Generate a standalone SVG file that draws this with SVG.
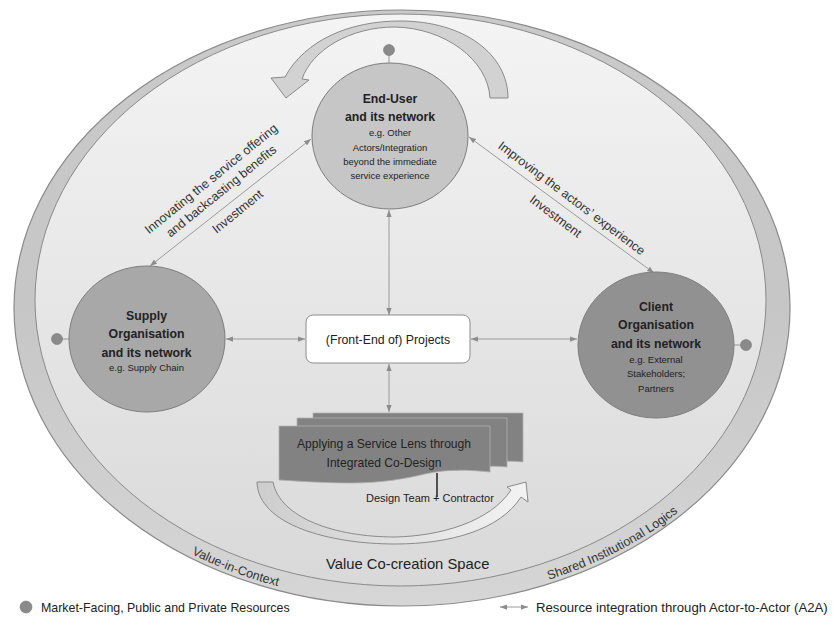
<svg xmlns="http://www.w3.org/2000/svg" width="833" height="628" viewBox="0 0 833 628">
<defs>
<linearGradient id="gOuter" x1="0" y1="0" x2="0" y2="1"><stop offset="0" stop-color="#cacaca"/><stop offset="0.5" stop-color="#c6c6c6"/><stop offset="1" stop-color="#d6d6d6"/></linearGradient>
<linearGradient id="gInner" x1="0" y1="0" x2="0" y2="1"><stop offset="0" stop-color="#f4f4f4"/><stop offset="1" stop-color="#d9d9d9"/></linearGradient>
<linearGradient id="gU" x1="0" y1="0" x2="1" y2="0"><stop offset="0" stop-color="#cdcdcd"/><stop offset="1" stop-color="#f3f3f3"/></linearGradient>
<marker id="ah" viewBox="0 0 8 6" refX="8" refY="3" markerWidth="7" markerHeight="5.5" orient="auto-start-reverse" markerUnits="userSpaceOnUse"><path d="M0,0 L8,3 L0,6 Z" fill="#8c8c8c"/></marker>
<path id="bandPath" d="M18,308 A384,294 0 0 0 786,308"/>
</defs>
<style>
text { font-family: "Liberation Sans", Arial, sans-serif; fill: #222; }
.b { font-weight: bold; font-size: 12.3px; text-anchor: middle; }
.s { font-size: 9.5px; text-anchor: middle; }
.lbl { font-size: 12.5px; fill: #333; }
.con { stroke: #9a9a9a; stroke-width: 1; fill: none; marker-start: url(#ah); marker-end: url(#ah); }
.node { stroke: #7d7d7d; stroke-width: 1; }
.dot { fill: #8a8a8a; stroke: #777; stroke-width: 0.6; }
.stub { stroke: #999; stroke-width: 1; }
.doc { fill: #828282; stroke: #b0b0b0; stroke-width: 0.8; }
.curv { stroke: #8a8a8a; stroke-width: 1; }
</style>

<g id="space">
<ellipse cx="402" cy="308" rx="388" ry="298" fill="url(#gOuter)" stroke="#8a8a8a" stroke-width="1.2"/>
<ellipse cx="400.5" cy="300" rx="365.5" ry="286" fill="url(#gInner)" stroke="#8a8a8a" stroke-width="1"/>
<text class="lbl"><textPath href="#bandPath" startOffset="363" text-anchor="middle">Value-in-Context</textPath></text>
<text class="lbl" font-size="13"><textPath href="#bandPath" startOffset="757" text-anchor="middle">Shared Institutional Logics</textPath></text>
<text x="326" y="569" font-size="14.8">Value Co-creation Space</text>
</g>

<g id="cycle-arrow-top">
<path class="curv" fill="#d2d2d2" d="M490,98 C488,60 445,28 395,27 C350,27 312,50 302,79 L309,80 L286,98 L271,78 L285,77 C305,40 350,21 400,21 C465,21 508,55 508,98 Z"/>
</g>

<g id="cycle-arrow-bottom">
<path class="curv" fill="url(#gU)" d="M257,482 C258,525 330,544 395,544 C450,544 500,530 521,497 L528,502 L526,482 L507,487 L511,490 C490,522 440,536 395,537 C335,537 280,518 273,482 Z"/>
</g>

<g id="connectors">
<line class="con" x1="311" y1="139" x2="150" y2="266"/>
<line class="con" x1="469" y1="137" x2="654" y2="273"/>
<line class="con" x1="389" y1="210" x2="389" y2="315"/>
<line class="con" x1="389" y1="364" x2="389" y2="412"/>
<line class="con" x1="226" y1="339" x2="305" y2="339"/>
<line class="con" x1="471" y1="339" x2="577" y2="339"/>
</g>

<g id="connector-labels">
<g transform="translate(229.5,201.5) rotate(-39.05)">
<text class="lbl" x="0" y="-25" text-anchor="middle">Innovating the service offering</text>
<text class="lbl" x="0" y="-9" text-anchor="middle">and backcasting benefits</text>
<text class="lbl" x="0" y="17" text-anchor="middle">Investment</text>
</g>
<g transform="translate(565.5,206.4) rotate(36.97)">
<text class="lbl" x="0" y="-6" text-anchor="middle">Improving the actors’ experience</text>
<text class="lbl" x="-2" y="18" text-anchor="middle">Investment</text>
</g>
</g>

<g id="end-user">
<line class="stub" x1="389" y1="55" x2="389" y2="63"/>
<circle class="dot" cx="389" cy="50" r="5.5"/>
<ellipse class="node" cx="390" cy="136" rx="78" ry="73" fill="#c6c6c6"/>
<text class="b" x="390" y="103">End-User</text>
<text class="b" x="390" y="121">and its network</text>
<text class="s" x="390" y="136">e.g. Other</text>
<text class="s" x="390" y="151">Actors/Integration</text>
<text class="s" x="390" y="165">beyond the immediate</text>
<text class="s" x="390" y="179">service experience</text>
</g>

<g id="supply-org">
<line class="stub" x1="62" y1="339" x2="69" y2="339"/>
<circle class="dot" cx="57" cy="339" r="5.5"/>
<ellipse class="node" cx="147" cy="339" rx="78" ry="73" fill="#a8a8a8"/>
<text class="b" x="146.5" y="320">Supply</text>
<text class="b" x="146.5" y="338">Organisation</text>
<text class="b" x="146.5" y="357">and its network</text>
<text class="s" x="146.5" y="371">e.g. Supply Chain</text>
</g>

<g id="client-org">
<line class="stub" x1="734" y1="345" x2="741" y2="345"/>
<circle class="dot" cx="746" cy="345" r="5.5"/>
<ellipse class="node" cx="656" cy="345" rx="78" ry="73" fill="#919191"/>
<text class="b" x="656" y="311">Client</text>
<text class="b" x="656" y="329">Organisation</text>
<text class="b" x="656" y="348">and its network</text>
<text class="s" x="656" y="363">e.g. External</text>
<text class="s" x="656" y="377">Stakeholders;</text>
<text class="s" x="656" y="392">Partners</text>
</g>

<g id="projects">
<rect x="306" y="315" width="164" height="48" rx="7" fill="#ffffff" stroke="#8c8c8c" stroke-width="1"/>
<text x="388" y="344" font-size="12.3" text-anchor="middle">(Front-End of) Projects</text>
</g>

<g id="co-design">
<path class="doc" d="M313,413 H523 V462 C505,460 490,462 475,465 L313,470 Z"/>
<path class="doc" d="M297,418 H507 V467 C489,465 474,467 459,470 L297,476 Z"/>
<path class="doc" d="M279,426 H490 V472 C462,469 442,470 425,474 C405,479 380,483 352,483 C322,483 298,481 279,480 Z"/>
<text x="384" y="448" font-size="12.1" text-anchor="middle" fill="#1a1a1a">Applying a Service Lens through</text>
<text x="384" y="467" font-size="12.1" text-anchor="middle" fill="#1a1a1a">Integrated Co-Design</text>
<line x1="437" y1="473" x2="437" y2="497" stroke="#222" stroke-width="1.5"/>
<text x="366" y="502" font-size="11">Design Team + Contractor</text>
</g>

<g id="legend">
<circle class="dot" cx="26" cy="607" r="6"/>
<text x="41" y="612" font-size="12.4" fill="#333">Market-Facing, Public and Private Resources</text>
<line class="con" x1="500" y1="607" x2="528" y2="607"/>
<text x="536" y="612" font-size="13.2" fill="#333">Resource integration through Actor-to-Actor (A2A)</text>
</g>
</svg>
